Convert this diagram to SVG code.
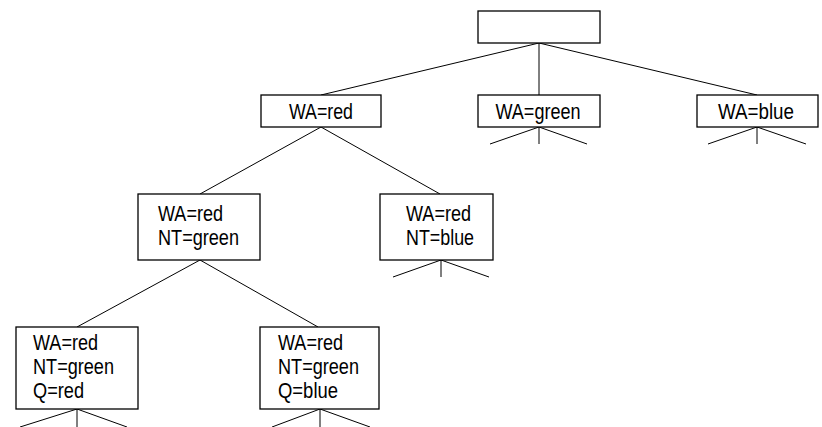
<svg xmlns="http://www.w3.org/2000/svg" width="822" height="427" viewBox="0 0 822 427">
<style>
.box{fill:#fff;stroke:#000;stroke-width:1.3}
.ln{stroke:#000;stroke-width:1;fill:none}
.t{font-family:"Liberation Sans",Arial,sans-serif;font-size:22px;fill:#000}
.m{font-size:21.4px}
.c{text-anchor:middle}
</style>
<rect width="822" height="427" fill="#fff"/>
<g id="connectors">
<line class="ln" x1="539" y1="43" x2="321" y2="95"/>
<line class="ln" x1="539" y1="43" x2="539" y2="95"/>
<line class="ln" x1="539" y1="43" x2="757" y2="95"/>
<line class="ln" x1="539" y1="127" x2="490" y2="144"/>
<line class="ln" x1="539" y1="127" x2="539" y2="144"/>
<line class="ln" x1="539" y1="127" x2="587" y2="144"/>
<line class="ln" x1="757" y1="127" x2="708" y2="144"/>
<line class="ln" x1="757" y1="127" x2="757" y2="144"/>
<line class="ln" x1="757" y1="127" x2="806" y2="144"/>
<line class="ln" x1="321" y1="127" x2="200" y2="194"/>
<line class="ln" x1="321" y1="127" x2="440" y2="194"/>
<line class="ln" x1="441" y1="260" x2="393" y2="277"/>
<line class="ln" x1="441" y1="260" x2="441" y2="277"/>
<line class="ln" x1="441" y1="260" x2="489" y2="277"/>
<line class="ln" x1="200" y1="260" x2="77" y2="327"/>
<line class="ln" x1="200" y1="260" x2="318" y2="327"/>
<line class="ln" x1="77" y1="409" x2="20" y2="427"/>
<line class="ln" x1="77" y1="409" x2="77" y2="427"/>
<line class="ln" x1="77" y1="409" x2="127" y2="427"/>
<line class="ln" x1="320" y1="409" x2="272" y2="427"/>
<line class="ln" x1="320" y1="409" x2="320" y2="427"/>
<line class="ln" x1="320" y1="409" x2="370" y2="427"/>
</g>
<g id="root">
<rect class="box" x="478" y="11" width="122" height="32"/>
</g>
<g id="wa-red">
<rect class="box" x="261" y="95" width="120" height="32"/>
<text class="t c" x="321" y="119" textLength="64" lengthAdjust="spacingAndGlyphs">WA=red</text>
</g>
<g id="wa-green">
<rect class="box" x="478" y="95" width="122" height="32"/>
<text class="t c" x="538" y="119" textLength="85" lengthAdjust="spacingAndGlyphs">WA=green</text>
</g>
<g id="wa-blue">
<rect class="box" x="697" y="95" width="121" height="32"/>
<text class="t c" x="756" y="119" textLength="76" lengthAdjust="spacingAndGlyphs">WA=blue</text>
</g>
<g id="wa-red-nt-green">
<rect class="box" x="138" y="194" width="122" height="66"/>
<text class="t m" x="158" y="221" textLength="65" lengthAdjust="spacingAndGlyphs">WA=red</text>
<text class="t m" x="158" y="245" textLength="81" lengthAdjust="spacingAndGlyphs">NT=green</text>
</g>
<g id="wa-red-nt-blue">
<rect class="box" x="380" y="194" width="113" height="66"/>
<text class="t m" x="406" y="221" textLength="65" lengthAdjust="spacingAndGlyphs">WA=red</text>
<text class="t m" x="406" y="245" textLength="68" lengthAdjust="spacingAndGlyphs">NT=blue</text>
</g>
<g id="q-red">
<rect class="box" x="16" y="327" width="122" height="82"/>
<text class="t m" x="33" y="350" textLength="65" lengthAdjust="spacingAndGlyphs">WA=red</text>
<text class="t m" x="33" y="374" textLength="81" lengthAdjust="spacingAndGlyphs">NT=green</text>
<text class="t m" x="33" y="398" textLength="51" lengthAdjust="spacingAndGlyphs">Q=red</text>
</g>
<g id="q-blue">
<rect class="box" x="260" y="327" width="119" height="82"/>
<text class="t m" x="278" y="350" textLength="65" lengthAdjust="spacingAndGlyphs">WA=red</text>
<text class="t m" x="278" y="374" textLength="81" lengthAdjust="spacingAndGlyphs">NT=green</text>
<text class="t m" x="278" y="398" textLength="60" lengthAdjust="spacingAndGlyphs">Q=blue</text>
</g>
</svg>
